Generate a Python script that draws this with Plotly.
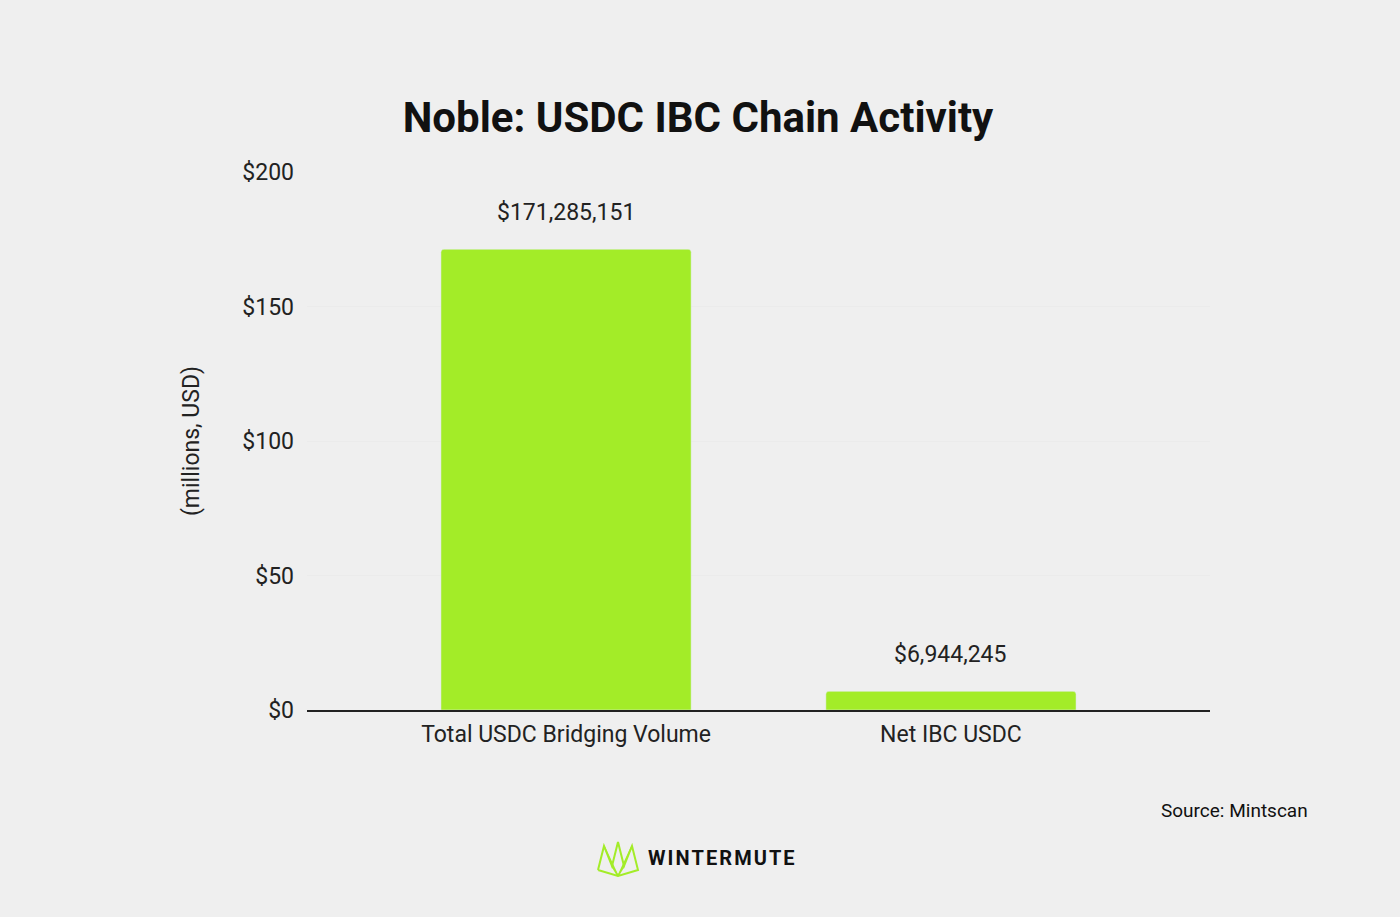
import plotly.graph_objects as go

categories = ["Total USDC Bridging Volume", "Net IBC USDC"]
values_musd = [171.285151, 6.944245]
value_labels = ["$171,285,151", "$6,944,245"]
tick_vals = [0, 50, 100, 150, 200]
tick_text = ["$0", "$50", "$100", "$150", "$200"]

W, H = 1400, 917
L, R, T, B = 307, 190, 172, 207
PW, PH = W - L - R, H - T - B
FONT = "Roboto"

fig = go.Figure(go.Bar(
    x=[0, 1], y=values_musd, width=0.65, marker=dict(color="#a3ec28", cornerradius=3),
    hoverinfo="skip"))

def px(x): return (x - L) / PW
def py(y): return (H - B - y) / PH

shapes = []
pts = [(598, 870), (604, 846), (612, 866), (618, 842), (624, 866), (632, 846), (638, 870), (618, 876), (598, 870)]
path = "M " + " L ".join(f"{px(a)},{py(b)}" for a, b in pts)
shapes.append(dict(type="path", xref="paper", yref="paper", path=path,
                   line=dict(color="#a3ec28", width=2)))
for a, b in [((604, 846), (618, 876)), ((632, 846), (618, 876)), ((612, 866), (618, 876)), ((624, 866), (618, 876))]:
    shapes.append(dict(type="line", xref="paper", yref="paper", x0=px(a[0]), y0=py(a[1]), x1=px(b[0]), y1=py(b[1]),
                       line=dict(color="#a3ec28", width=1.5)))

annotations = [
    dict(text=lab, x=i, y=v, xref="x", yref="y", yshift=37, showarrow=False, yanchor="middle",
         font=dict(size=23, color="#222", family=FONT))
    for i, (v, lab) in enumerate(zip(values_musd, value_labels))
] + [
    dict(text="Source: Mintscan", xref="paper", yref="paper", x=px(1310), y=py(811), xanchor="right",
         yanchor="middle", showarrow=False, font=dict(size=19, color="#111", family=FONT)),
    dict(text="<b>" + "\u200a".join("WINTERMUTE") + "</b>", xref="paper", yref="paper", x=px(646), y=py(858),
         xanchor="left", yanchor="middle", showarrow=False, font=dict(size=20, color="#111", family=FONT)),
]

fig.update_layout(
    width=W, height=H, margin=dict(l=L, r=R, t=T, b=B),
    paper_bgcolor="#efefef", plot_bgcolor="#efefef",
    font=dict(family=FONT, color="#222"),
    showlegend=False, shapes=shapes, annotations=annotations,
    title=dict(text="<b>Noble: USDC IBC Chain Activity</b>", x=698 / W, xanchor="center",
               y=1 - 117 / H, yanchor="middle", font=dict(size=42, family=FONT, color="#111")),
    xaxis=dict(range=[-0.673, 1.673], tickvals=[0, 1], ticktext=categories, showgrid=False,
               showline=True, linecolor="#222", linewidth=2, tickfont=dict(size=23, color="#222"),
               ticks="", ticklabelstandoff=2, zeroline=False),
    yaxis=dict(range=[0, 200], tickvals=tick_vals, ticktext=tick_text, showgrid=True, gridcolor="#ebebeb",
               zeroline=False, tickfont=dict(size=23, color="#222"), ticklabelstandoff=12,
               title=dict(text="(millions, USD)", font=dict(size=23, color="#222"), standoff=36)),
)
fig.write_html("out.html", post_script="document.body.style.margin='0';",
               config={"displayModeBar": False})
